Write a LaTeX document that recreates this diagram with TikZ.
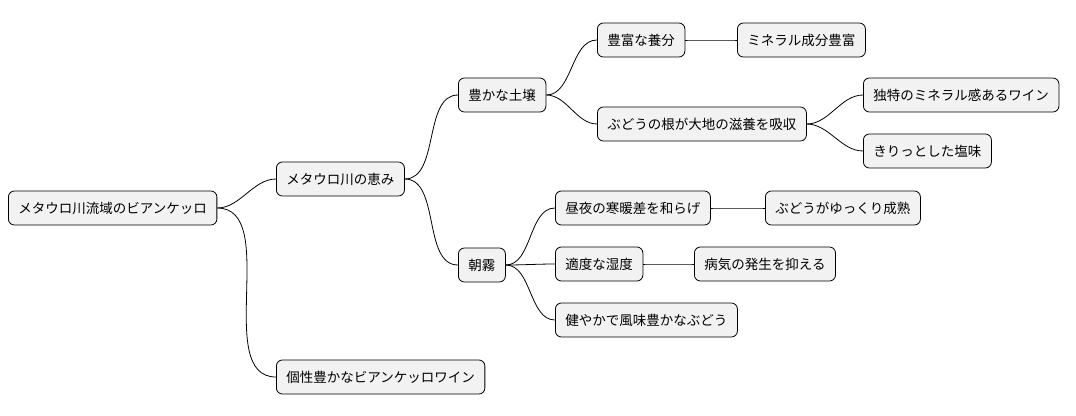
\documentclass[tikz,border=0pt]{standalone}
\usepackage{fontspec}
\setmainfont{Noto Sans CJK JP}
\usetikzlibrary{positioning}
\tikzset{
  topic/.style={draw=black,line width=0.8pt,rounded corners=6bp,fill=gray!10,
    inner xsep=10bp,minimum height=34bp,anchor=west,font=\fontsize{13.5bp}{16bp}\selectfont},
  branch/.style={line width=0.8pt,out=0,in=180,looseness=0.9}
}
\begin{document}
\begin{tikzpicture}[x=1bp,y=-1bp]
\useasboundingbox (0,0) rectangle (1076,415);

\node (root) at (8,208)[topic] {メタウロ川流域のビアンケッロ};
\node (megumi) at (276,179)[topic] {メタウロ川の恵み};
\node (kosei) at (276,377)[topic] {個性豊かなビアンケッロワイン};
\node (dojo) at (458,95)[topic] {豊かな土壌};
\node (asagiri) at (458,265)[topic] {朝霧};
\node (yobun) at (597,40)[topic] {豊富な養分};
\node (mineral) at (737,40)[topic] {ミネラル成分豊富};
\node (ne) at (597,124)[topic] {ぶどうの根が大地の滋養を吸収};
\node (dokutoku) at (863,95)[topic] {独特のミネラル感あるワイン};
\node (shio) at (863,151)[topic] {きりっとした塩味};
\node (kandan) at (555,208)[topic] {昼夜の寒暖差を和らげ};
\node (jukusei) at (765,208)[topic] {ぶどうがゆっくり成熟};
\node (shitsudo) at (555,264)[topic] {適度な湿度};
\node (byoki) at (694,264)[topic] {病気の発生を抑える};
\node (sukoyaka) at (555,320)[topic] {健やかで風味豊かなぶどう};

\draw[branch] (root.east) to (megumi.west);
\draw[branch] (root.east) to (kosei.west);
\draw[branch] (megumi.east) to (dojo.west);
\draw[branch] (megumi.east) to (asagiri.west);
\draw[branch] (dojo.east) to (yobun.west);
\draw[branch] (dojo.east) to (ne.west);
\draw[branch] (yobun.east) to (mineral.west);
\draw[branch] (ne.east) to (dokutoku.west);
\draw[branch] (ne.east) to (shio.west);
\draw[branch] (asagiri.east) to (kandan.west);
\draw[branch] (asagiri.east) to (shitsudo.west);
\draw[branch] (asagiri.east) to (sukoyaka.west);
\draw[branch] (kandan.east) to (jukusei.west);
\draw[branch] (shitsudo.east) to (byoki.west);
\end{tikzpicture}
\end{document}
